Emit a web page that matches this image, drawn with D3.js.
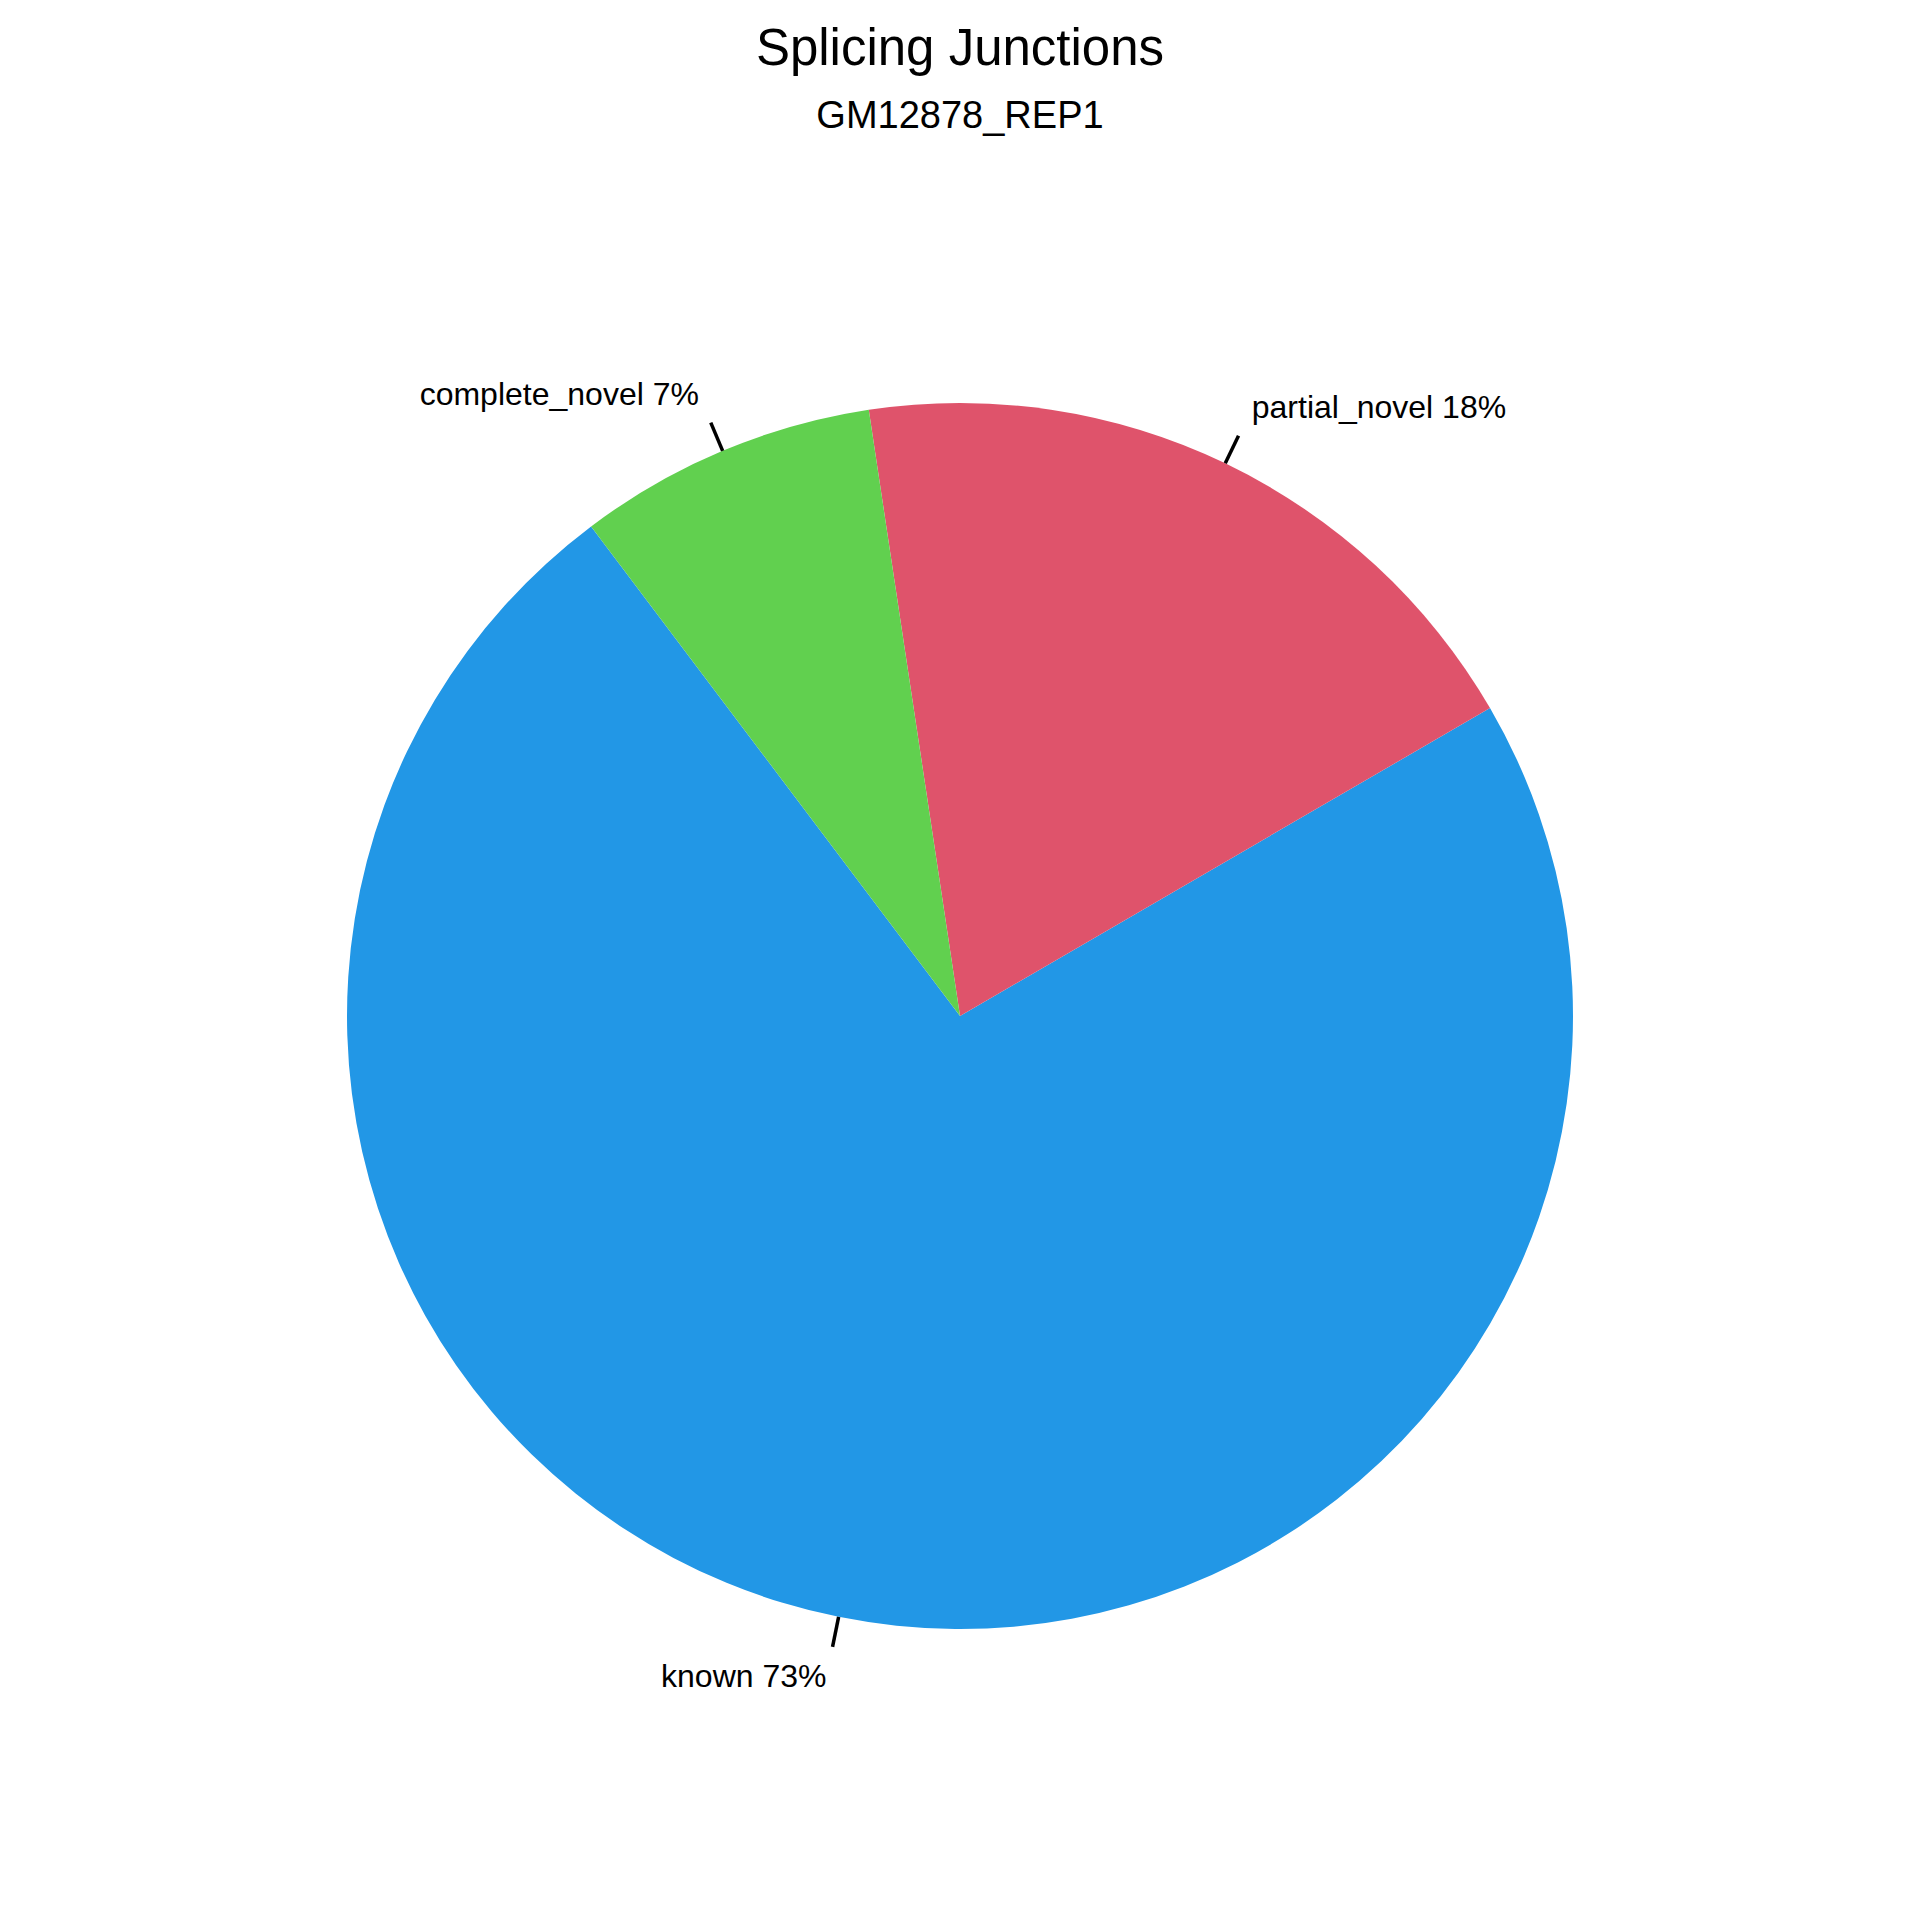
<html>
<script src="https://cdn.jsdelivr.net/npm/d3@7"></script>
<head>
    <style>
        body {
            margin: 0;
            background: white;
            font-family: "Liberation Sans", Arial, Helvetica, sans-serif;
        }
    </style>
</head>

<body>
    <svg id="PieChart"></svg>
</body>

<script>
    // data
    let categories = ["known", "partial_novel", "complete_novel"];
    let shares = [73.1, 19.0, 7.9];
    let shareLabels = ["73%", "18%", "7%"];
    let colors = ["#2297E6", "#DF536B", "#61D04F"];
    let title = "Splicing Junctions";
    let subtitle = "GM12878_REP1";

    let slices = categories.map((c, i) => ({
        name: c,
        value: shares[i],
        label: c + " " + shareLabels[i],
        color: colors[i]
    }));

    // config
    function getConfig() {
        let width = 1920;
        let height = 1920;
        let cx = 960;
        let cy = 1016;
        let radius = 613;
        let container = d3.select("#PieChart")
            .attr("width", width)
            .attr("height", height);
        return { width, height, cx, cy, radius, container };
    }

    function drawTitles(config) {
        let { container, cx } = config;
        container.append("text")
            .attr("x", cx)
            .attr("y", 65)
            .attr("text-anchor", "middle")
            .style("font-size", "51px")
            .text(title);
        container.append("text")
            .attr("x", cx)
            .attr("y", 128)
            .attr("text-anchor", "middle")
            .style("font-size", "38px")
            .text(subtitle);
    }

    function drawPie(config) {
        let { container, cx, cy, radius } = config;
        // R style: counter-clockwise, first slice starting at ~127 deg
        let start = (90 - 127) * Math.PI / 180;
        let pie = d3.pie()
            .sort(null)
            .value(d => d.value)
            .startAngle(start)
            .endAngle(start - 2 * Math.PI);

        let arcs = pie(slices);
        let arc = d3.arc()
            .innerRadius(0)
            .outerRadius(radius);

        let body = container.append("g")
            .attr("transform", `translate(${cx}, ${cy})`);

        body.selectAll(".slice")
            .data(arcs)
            .enter()
            .append("path")
            .attr("class", "slice")
            .attr("d", arc)
            .attr("fill", d => d.data.color);

        let mid = d => (d.startAngle + d.endAngle) / 2;

        body.selectAll(".tick")
            .data(arcs)
            .enter()
            .append("line")
            .attr("class", "tick")
            .attr("x1", d => d3.pointRadial(mid(d), radius)[0])
            .attr("y1", d => d3.pointRadial(mid(d), radius)[1])
            .attr("x2", d => d3.pointRadial(mid(d), radius * 1.05)[0])
            .attr("y2", d => d3.pointRadial(mid(d), radius * 1.05)[1])
            .attr("stroke", "black")
            .attr("stroke-width", 3.5);

        body.selectAll(".label")
            .data(arcs)
            .enter()
            .append("text")
            .attr("class", "label")
            .attr("x", d => d3.pointRadial(mid(d), radius * 1.1)[0])
            .attr("y", d => d3.pointRadial(mid(d), radius * 1.1)[1])
            .attr("dy", "0.32em")
            .attr("text-anchor", d => d3.pointRadial(mid(d), 1)[0] < 0 ? "end" : "start")
            .style("font-size", "32px")
            .text(d => d.data.label);
    }

    let config = getConfig();
    drawTitles(config);
    drawPie(config);
</script>
</html>
